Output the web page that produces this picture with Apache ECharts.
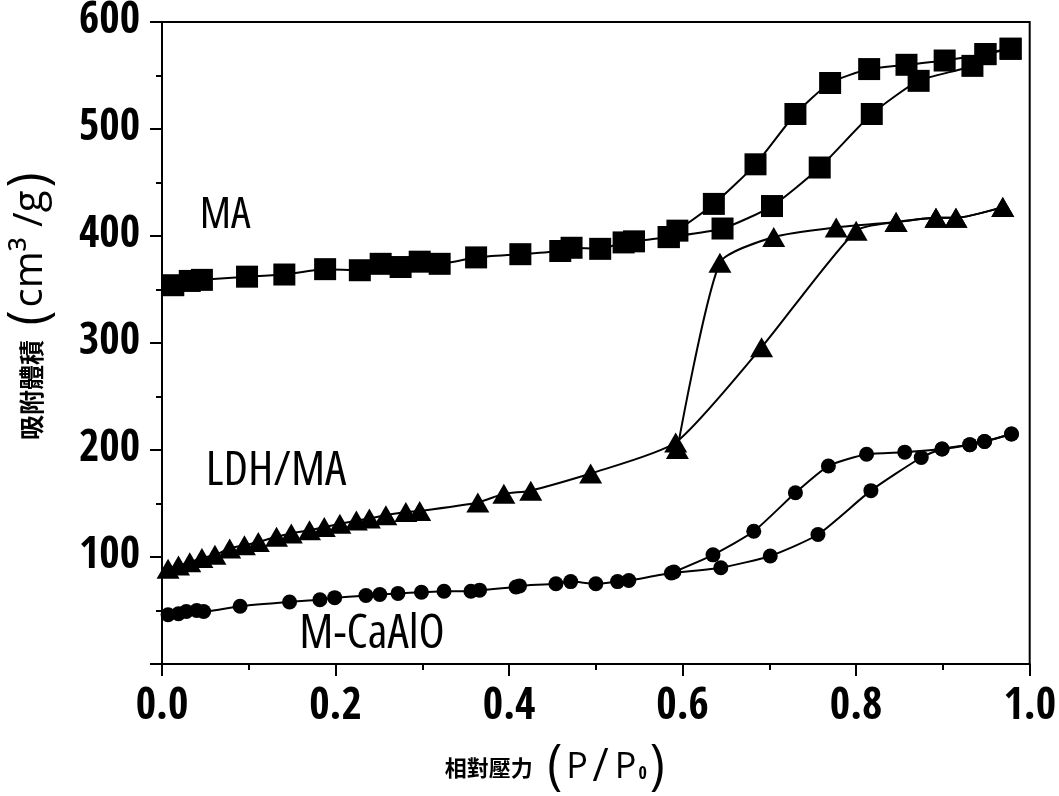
<!DOCTYPE html>
<html>
<head>
<meta charset="utf-8">
<script src="https://cdn.jsdelivr.net/npm/echarts@6/dist/echarts.min.js"></script>
<style>
html,body{margin:0;padding:0;background:#fff;}
#chart{width:1059px;height:796px;}
</style>
</head>
<body>
<div id="chart"></div>
<script>
// ---- tick labels ----
const xTickLabels = ['0.0', '0.2', '0.4', '0.6', '0.8', '1.0'];
const yTickLabels = ['', '100', '200', '300', '400', '500', '600'];

// ---- series labels ----
const seriesNames = ['MA', 'LDH/MA', 'M-CaAlO'];
const xTitle = ['相對壓力', 'P', '/', 'P', '0'];
const yTitle = ['吸附體積', 'cm³ /g'];

// ---- MA (squares) ----
const maAdsorption = [
  [0.013, 354], [0.032, 358], [0.046, 359], [0.098, 362], [0.141, 364], [0.188, 369],
  [0.228, 368], [0.252, 374], [0.275, 371], [0.297, 376], [0.320, 374], [0.362, 380],
  [0.413, 383], [0.459, 386], [0.472, 389], [0.505, 388], [0.532, 394], [0.544, 395],
  [0.584, 399], [0.646, 407], [0.703, 428], [0.758, 464], [0.818, 514], [0.872, 545],
  [0.934, 559], [0.949, 570], [0.978, 575]
];
const maDesorption = [
  [0.978, 575], [0.949, 570], [0.902, 564], [0.858, 560], [0.815, 556], [0.770, 543],
  [0.730, 514], [0.684, 467], [0.636, 430], [0.594, 405], [0.584, 399]
];

// ---- LDH/MA (triangles) ----
const ldhAdsorption = [
  [0.007, 89], [0.019, 92], [0.032, 95], [0.046, 99], [0.061, 102], [0.078, 108],
  [0.095, 111], [0.111, 114], [0.132, 119], [0.149, 122], [0.170, 125], [0.187, 128],
  [0.205, 131], [0.224, 134], [0.239, 136], [0.258, 139], [0.281, 142], [0.297, 143],
  [0.364, 151], [0.394, 159], [0.425, 162], [0.494, 178], [0.592, 207], [0.691, 296],
  [0.800, 405], [0.846, 413], [0.892, 417], [0.915, 417], [0.969, 427]
];
const ldhDesorption = [
  [0.969, 427], [0.915, 417], [0.892, 417], [0.846, 413], [0.777, 408], [0.705, 399],
  [0.643, 375], [0.594, 201]
];

// ---- M-CaAlO (circles) ----
const mcaAdsorption = [
  [0.007, 46], [0.019, 47], [0.028, 49], [0.040, 50], [0.048, 49], [0.090, 54],
  [0.147, 58], [0.182, 60], [0.199, 62], [0.235, 64], [0.251, 65], [0.272, 66],
  [0.299, 67], [0.325, 68], [0.356, 68], [0.366, 69], [0.408, 72], [0.412, 73],
  [0.454, 75], [0.471, 77], [0.500, 75], [0.525, 77], [0.538, 78], [0.587, 85],
  [0.644, 90], [0.701, 101], [0.756, 121], [0.817, 162], [0.875, 193], [0.899, 201],
  [0.931, 205], [0.948, 208], [0.979, 215]
];
const mcaDesorption = [
  [0.979, 215], [0.948, 208], [0.931, 205], [0.899, 201], [0.856, 198], [0.812, 196],
  [0.768, 185], [0.730, 160], [0.682, 124], [0.635, 102], [0.590, 86]
];

const FONT = '"Open Sans Condensed", "Open Sans", sans-serif';
const NARROW = '"Open Sans", sans-serif';
const CJK = '"Noto Sans CJK TC", "Noto Sans CJK SC", sans-serif';

function mkSeries(name, data, symbol, size) {
  return {
    name: name,
    type: 'line',
    data: data,
    symbol: symbol,
    symbolSize: size,
    smooth: 0.2,
    showAllSymbol: true,
    lineStyle: { color: '#000', width: 2 },
    itemStyle: { color: '#000', borderWidth: 0 },
    emphasis: { disabled: true },
    z: 3
  };
}

const chart = echarts.init(document.getElementById('chart'), null, { renderer: 'canvas' });
chart.setOption({
  animation: false,
  backgroundColor: '#fff',
  grid: {
    left: 162, right: 27, top: 21, bottom: 132,
    show: true, borderColor: '#000', borderWidth: 2, backgroundColor: 'transparent'
  },
  xAxis: {
    type: 'value', min: 0, max: 1, interval: 0.2,
    axisLine: { show: true, lineStyle: { color: '#000', width: 2 } },
    axisTick: { show: true, inside: false, length: 12, lineStyle: { color: '#000', width: 2 } },
    minorTick: { show: true, splitNumber: 2, length: 6, lineStyle: { color: '#000', width: 2 } },
    splitLine: { show: false },
    axisLabel: {
      margin: 22, color: '#000', fontFamily: FONT, fontWeight: 'bold', fontSize: 44,
      formatter: function (v) { return xTickLabels[Math.round(v / 0.2)]; }
    }
  },
  yAxis: {
    type: 'value', min: 0, max: 600, interval: 100,
    axisLine: { show: true, lineStyle: { color: '#000', width: 2 } },
    axisTick: { show: true, inside: false, length: 12, lineStyle: { color: '#000', width: 2 } },
    minorTick: { show: true, splitNumber: 2, length: 6, lineStyle: { color: '#000', width: 2 } },
    splitLine: { show: false },
    axisLabel: {
      margin: 22, color: '#000', fontFamily: FONT, fontWeight: 'bold', fontSize: 44,
      formatter: function (v) { return yTickLabels[Math.round(v / 100)]; }
    }
  },
  series: [
    mkSeries('MA adsorption', maAdsorption, 'rect', 22),
    mkSeries('MA desorption', maDesorption, 'rect', 22),
    mkSeries('LDH/MA adsorption', ldhAdsorption, 'triangle', [23, 20]),
    mkSeries('LDH/MA desorption', ldhDesorption, 'triangle', [23, 20]),
    mkSeries('M-CaAlO adsorption', mcaAdsorption, 'circle', 15),
    mkSeries('M-CaAlO desorption', mcaDesorption, 'circle', 15)
  ],
  graphic: [
    { type: 'text', x: 225, y: 215, style: { text: seriesNames[0], font: 'condensed 44px ' + NARROW, fill: '#000', align: 'center', verticalAlign: 'middle' } },
    { type: 'text', x: 276, y: 471, style: { text: seriesNames[1], font: 'condensed 48px ' + NARROW, fill: '#000', align: 'center', verticalAlign: 'middle' } },
    { type: 'text', x: 372, y: 634, style: { text: seriesNames[2], font: 'condensed 48px ' + NARROW, fill: '#000', align: 'center', verticalAlign: 'middle' } },
    {
      type: 'text', x: 555, y: 768,
      style: {
        text: '{c|' + xTitle[0] + '}{gap| }{par|(}{p|' + xTitle[1] + '}{sl|' + xTitle[2] + '}{p|' + xTitle[3] + '}{sub|' + xTitle[4] + '}{par|)}',
        align: 'center', verticalAlign: 'middle', fill: '#000',
        rich: {
          c: { fontFamily: CJK, fontSize: 22, fill: '#000', fontWeight: 'bold' },
          gap: { fontFamily: CJK, fontSize: 22, width: 14 },
          par: { fontFamily: NARROW, fontSize: 54, fill: '#000', fontWeight: 'condensed' },
          p: { fontFamily: NARROW, fontSize: 36, fill: '#000', padding: [0, 2, 0, 4] },
          sl: { fontFamily: NARROW, fontSize: 46, fill: '#000', fontWeight: 'condensed', padding: [0, 2, 0, 2] },
          sub: { fontFamily: FONT, fontSize: 18, fill: '#000', fontWeight: 'bold', lineHeight: 18, padding: [12, 3, 0, 0] }
        }
      }
    },
    {
      type: 'text', x: 31, y: 306, rotation: Math.PI / 2,
      style: {
        text: '{c|' + yTitle[0] + '}{gap| }{par|(}{p|' + yTitle[1] + '}{par|)}',
        align: 'center', verticalAlign: 'middle', fill: '#000',
        rich: {
          c: { fontFamily: CJK, fontSize: 25, fill: '#000', fontWeight: 'bold' },
          gap: { fontFamily: CJK, fontSize: 22, width: 14 },
          par: { fontFamily: NARROW, fontSize: 54, fill: '#000', fontWeight: 'condensed' },
          p: { fontFamily: NARROW, fontSize: 40, fill: '#000', padding: [0, 3, 0, 3] }
        }
      }
    }
  ]
});
</script>
</body>
</html>
